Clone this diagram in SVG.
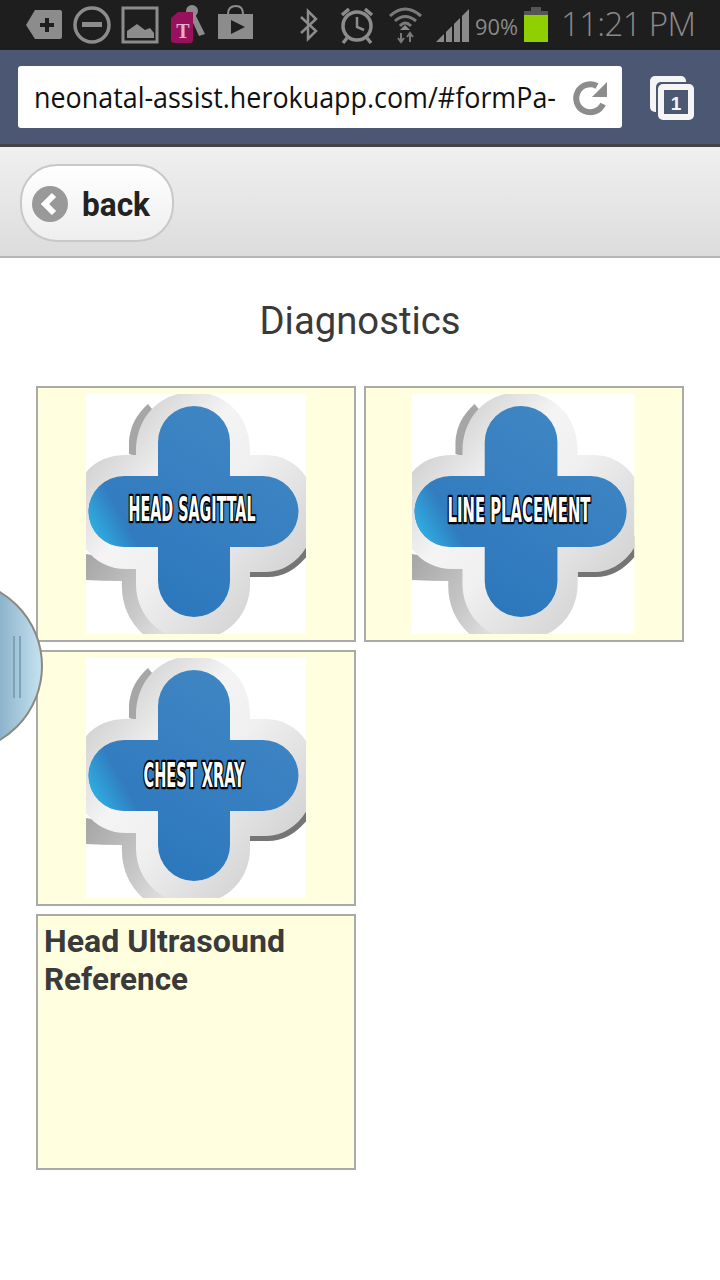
<svg xmlns="http://www.w3.org/2000/svg" xmlns:xlink="http://www.w3.org/1999/xlink" width="720" height="1280" viewBox="0 0 720 1280">
<style>
.card{fill:#ffffe0;stroke:#aaa;stroke-width:2}
.ico{fill:#8c8c8c}
.sb{fill:#8a8a8a;font-family:"Open Sans","DejaVu Sans",sans-serif}
.lbl{font-family:"Liberation Sans Narrow","DejaVu Sans Condensed","Liberation Sans",sans-serif;font-weight:700;font-size:33px;fill:#fff;stroke:#000;stroke-width:4.500px;paint-order:stroke;stroke-linejoin:round;text-anchor:middle}
.h{font-family:Roboto,"Liberation Sans",sans-serif;font-weight:700;font-size:31px;fill:#3a3a3a}
</style>
<defs>
<linearGradient id="hdr" x1="0" y1="0" x2="0" y2="1"><stop offset="0" stop-color="#f0f0f0"/><stop offset="1" stop-color="#dcdcdc"/></linearGradient>
<linearGradient id="btn" x1="0" y1="0" x2="0" y2="1"><stop offset="0" stop-color="#fff"/><stop offset="1" stop-color="#eee"/></linearGradient>
<linearGradient id="pan" gradientUnits="userSpaceOnUse" x1="0" y1="0" x2="42" y2="0"><stop offset="0" stop-color="#8db4cc"/><stop offset="1" stop-color="#c6e2f0"/></linearGradient>
<linearGradient id="blue" gradientUnits="userSpaceOnUse" x1="4" y1="135" x2="34" y2="118"><stop offset="0" stop-color="#2fb0e4"/><stop offset="1" stop-color="#2fb0e4" stop-opacity="0"/></linearGradient>
<linearGradient id="blue2" gradientUnits="userSpaceOnUse" x1="180" y1="20" x2="60" y2="220"><stop offset="0" stop-color="#4187c4"/><stop offset="1" stop-color="#2b76bc"/></linearGradient>
<linearGradient id="sil" gradientUnits="userSpaceOnUse" x1="0" y1="60" x2="200" y2="230"><stop offset="0" stop-color="#cfcfcf"/><stop offset=".3" stop-color="#f4f4f4"/><stop offset=".5" stop-color="#f0f0f0"/><stop offset=".75" stop-color="#dedede"/><stop offset="1" stop-color="#cccccc"/></linearGradient>
<linearGradient id="shL" gradientUnits="userSpaceOnUse" x1="0" y1="170" x2="110" y2="240"><stop offset="0" stop-color="#a8a8a8"/><stop offset=".5" stop-color="#c8c8c8"/><stop offset="1" stop-color="#f0f0f0"/></linearGradient>
<clipPath id="cc"><rect x="0" y="0" width="220" height="240"/></clipPath>
<clipPath id="url"><rect x="30" y="70" width="528" height="56"/></clipPath>
<g id="cross">
<rect width="220" height="240" fill="#fff"/>
<g clip-path="url(#cc)">
<path d="M43 60 V48 Q44 26 62 10 L70 20 L50 62Z" fill="#a6a6a6"/>
<path d="M0 160 V186 Q18 187 36 187 Q34 224 64 246 H120 L60 170Z" fill="url(#shL)"/>
<path d="M164 170 V183 H182 Q206 183 224 158 V140Z" fill="#757575"/>
<path d="M-12 118 C-12 80 10 61 40 61 H50 V57 C50 22 75 -2 107 -2 C140 -2 164 22 164 57 V61 H180 C208 61 230 85 230 118 C230 150 208 178 180 178 H164 V190 C164 222 140 246 107 246 C75 246 50 222 50 190 V175 H40 C10 175 -12 150 -12 118Z" fill="url(#sil)"/>
<path d="M72 82 V48 A36 36 0 0 1 144 48 V82 H177 A35.500 35.500 0 0 1 177 153 H144 V187 A36 36 0 0 1 72 187 V153 H38 A35.500 35.500 0 0 1 38 82Z" fill="url(#blue2)"/>
<path d="M38 82 H60 V153 H38 A35.500 35.500 0 0 1 38 82Z" fill="url(#blue)"/>
</g>
</g>
</defs>

<rect width="720" height="1280" fill="#fff"/>

<g id="status-bar">
<rect width="720" height="50" fill="#1e1e1e"/>
<path d="M35 10 H60 Q62 10 62 12 V37 Q62 39 60 39 H35 L26 25Z" class="ico"/>
<path d="M40 25 H54 M47 18 V32" stroke="#1e1e1e" stroke-width="4"/>
<circle cx="92" cy="25" r="17" fill="none" stroke="#8c8c8c" stroke-width="3.500"/>
<rect x="82" y="22" width="20" height="5" class="ico"/>
<rect x="123" y="8" width="34" height="34" fill="none" stroke="#8c8c8c" stroke-width="3"/>
<path d="M127 38 V31 L137 24 L145 30 L150 28 L154 33 V38Z" class="ico"/>
<path d="M194 12 L205 34 L199 36 L190 16Z" fill="#8c8c8c"/>
<circle cx="192" cy="11" r="6" fill="#8c8c8c"/>
<path d="M171 18 L178 12 H193 V40 Q193 43 190 43 H175 Q171 43 171 40Z" fill="#99115c"/>
<text x="183" y="38" font-family="Liberation Serif,serif" font-weight="700" font-size="20" fill="#e3b0cb" text-anchor="middle">T</text>
<path d="M218 14 H253 V39 H218Z" class="ico"/>
<path d="M228 14 Q228 6 236 6 Q243 6 243 14" fill="none" stroke="#8c8c8c" stroke-width="2"/>
<path d="M231 20 L245 27 L231 34Z" fill="#1e1e1e"/>
<path d="M301 17 L316 31 L308 39 V11 L316 19 L301 33" fill="none" stroke="#8c8c8c" stroke-width="2.500"/>
<circle cx="357" cy="26" r="14" fill="none" stroke="#8c8c8c" stroke-width="3.500"/>
<path d="M357 17 V27 L364 30" fill="none" stroke="#8c8c8c" stroke-width="2.500"/>
<path d="M342 15 L349 9 M372 15 L365 9 M347 38 L343 43 M367 38 L371 43" stroke="#8c8c8c" stroke-width="3.500"/>
<path d="M390 16 Q405 2 421 16 M395 21 Q405 12 416 21 M400 26 Q405 20 411 26" fill="none" stroke="#7a7a7a" stroke-width="3"/>
<path d="M405 25 L400 30 H410Z" fill="#8c8c8c"/>
<path d="M401 33 V42 M398 38 L401 42 L404 38 M410 42 V33 M407 37 L410 33 L413 37" fill="none" stroke="#7a7a7a" stroke-width="2"/>
<path d="M436 42 L469 9 V42Z" fill="#8a8a8a"/>
<path d="M445 30 V42 M453 23 V42 M461 15 V42" stroke="#1e1e1e" stroke-width="2"/>
<text x="475" y="35" class="sb" font-size="21" textLength="43" lengthAdjust="spacingAndGlyphs">90%</text>
<rect x="531" y="7" width="10" height="5" fill="#555"/>
<rect x="524" y="11" width="24" height="5" fill="#555"/>
<rect x="524" y="15" width="24" height="27" fill="#90d000"/>
<text x="561" y="36" class="sb" font-size="33" font-weight="300" textLength="135" lengthAdjust="spacing">11:21 PM</text>
</g>

<g id="browser-bar">
<rect y="50" width="720" height="94" fill="#4c5773"/>
<rect y="144" width="720" height="3" fill="#444"/>
<rect x="18" y="66" width="604" height="62" rx="3" fill="#fff"/>
<text x="34" y="108" clip-path="url(#url)" font-family="Open Sans,Noto Sans,sans-serif" font-size="30" fill="#111" textLength="522" lengthAdjust="spacingAndGlyphs">neonatal-assist.herokuapp.com/#formPa-</text>
<path d="M597 86 A14 14 0 1 0 603 104" fill="none" stroke="#8c8c8c" stroke-width="6"/>
<path d="M607 82 V97 H592Z" fill="#8c8c8c"/>
<rect x="650" y="76" width="36" height="36" rx="5" fill="#f5f5f5"/>
<rect x="656" y="82" width="38" height="38" rx="5" fill="#4c5773"/>
<rect x="658" y="84" width="36" height="36" rx="5" fill="#f5f5f5"/>
<rect x="664" y="90" width="24" height="24" fill="#4c5773"/>
<text x="676" y="110" font-family="Liberation Sans,sans-serif" font-weight="700" font-size="19" fill="#f5f5f5" text-anchor="middle">1</text>
</g>

<g id="header">
<rect y="147" width="720" height="110" fill="url(#hdr)"/>
<rect y="256" width="720" height="2" fill="#b5b5b5"/>
</g>

<g id="back-button">
<rect x="21" y="165" width="152" height="76" rx="36" fill="url(#btn)" stroke="#c8c8c8" stroke-width="2"/>
<circle cx="50" cy="204" r="18" fill="#999"/>
<path d="M54 195 L45 204 L54 213" fill="none" stroke="#fff" stroke-width="6"/>
<text x="82" y="216" font-family="Roboto,Liberation Sans,sans-serif" font-weight="700" font-size="33" fill="#222" textLength="68" lengthAdjust="spacingAndGlyphs">back</text>
</g>

<text id="title" x="360" y="334" font-family="Roboto,Liberation Sans,sans-serif" font-size="38" fill="#3a3a3a" text-anchor="middle" textLength="201" lengthAdjust="spacingAndGlyphs">Diagnostics</text>

<g id="head-sagittal">
<rect class="card" x="37" y="387" width="318" height="254"/>
<use xlink:href="#cross" href="#cross" x="86" y="394"/>
<text class="lbl" x="192" y="521" textLength="127" lengthAdjust="spacingAndGlyphs">HEAD SAGITTAL</text>
</g>

<g id="line-placement">
<rect class="card" x="365" y="387" width="318" height="254"/>
<use xlink:href="#cross" href="#cross" transform="translate(412 394) scale(1.010 1)"/>
<text class="lbl" x="519" y="522" textLength="143" lengthAdjust="spacingAndGlyphs">LINE PLACEMENT</text>
</g>

<g id="chest-xray">
<rect class="card" x="37" y="651" width="318" height="254"/>
<use xlink:href="#cross" href="#cross" x="86" y="658"/>
<text class="lbl" x="194" y="787" textLength="101" lengthAdjust="spacingAndGlyphs">CHEST XRAY</text>
</g>

<g id="head-ultrasound-reference">
<rect class="card" x="37" y="915" width="318" height="254"/>
<text class="h" x="44" y="952" textLength="241" lengthAdjust="spacingAndGlyphs">Head Ultrasound</text>
<text class="h" x="44" y="990" textLength="144" lengthAdjust="spacingAndGlyphs">Reference</text>
</g>

<g id="side-panel">
<circle cx="-44" cy="666" r="86" fill="url(#pan)" stroke="#8a8a80" stroke-width="2"/>
<path d="M14 636 V698 M20 636 V698" stroke="#7ea3b8" stroke-width="2"/>
</g>
</svg>
